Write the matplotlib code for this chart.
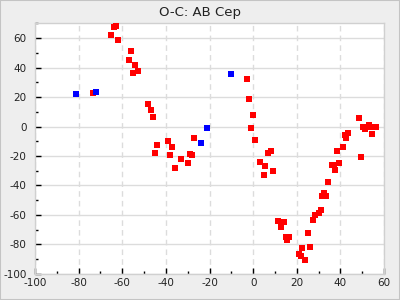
import matplotlib
matplotlib.use("Agg")
import matplotlib.pyplot as plt
from matplotlib.ticker import MultipleLocator
import matplotlib.patches as patches

plt.rcParams["axes.unicode_minus"] = False
plt.rcParams["font.family"] = "DejaVu Sans"

# primary minima (red) and secondary / other minima (blue)
red_x = [-64, -63, -65, -62, -56, -57, -54, -53, -55, -73.5, -48, -47, -46,
         -39, -44, -37, -45, -38, -36, -33, -30, -29, -28, -27,
         -3, -2, 0, -1, 1, 3, 5.5, 5, 7, 8, 9,
         11.5, 14, 13, 15, 16.5, 15.5, 25, 22.5, 26, 21, 22, 24,
         27.5, 28.5, 30, 31, 31.5, 32.5, 33.5, 34.5, 36, 37, 37.5, 39.5,
         38.5, 41, 42, 42.5, 43.5, 48.5, 49.5, 50.5, 51.5, 53, 53.5, 54.5,
         55.5, 56.5]
red_y = [67.5, 68, 62, 58.5, 51, 45.5, 42, 38, 36.5, 22.5, 15, 11, 6.5,
         -10, -12.5, -14, -18, -19, -28, -22, -25, -18.5, -19, -8,
         32.5, 18.5, 7.5, -1, -9, -24, -27, -33, -18, -16.5, -30.5,
         -64, -65, -68.5, -75, -75, -77, -72.5, -82.5, -82, -86.5, -88, -90.5,
         -63.5, -60, -58.5, -56.5, -47, -45, -47, -37.5, -26, -26, -29.5, -24.5,
         -16.5, -14, -6, -8, -4.5, 5.5, -21, 0, -2, 1, -0.5, -5,
         0, 0]
blue_x = [-81, -72, -10, -21, -24]
blue_y = [22, 23.5, 36, -1, -11]

fig = plt.figure(figsize=(4, 3), dpi=100, facecolor="#eeeeee")
fig.patches.append(patches.Rectangle((0, 0), 1, 1, transform=fig.transFigure,
                                     fill=False, edgecolor="#c4c4c4", linewidth=1.5))
ax = fig.add_axes([0.0875, 0.087, 0.8725, 0.835])
ax.set_facecolor("white")

ax.scatter(red_x, red_y, marker="s", s=20, color="#ff0000", linewidths=0, zorder=3)
ax.scatter(blue_x, blue_y, marker="s", s=20, color="#0000ff", linewidths=0, zorder=3)

ax.set_xlim(-100, 60)
ax.set_ylim(-100, 70)
ax.xaxis.set_major_locator(MultipleLocator(20))
ax.xaxis.set_minor_locator(MultipleLocator(10))
ax.yaxis.set_major_locator(MultipleLocator(20))
ax.yaxis.set_minor_locator(MultipleLocator(10))

ax.grid(axis="y", which="major", color="#dcdcdc", linestyle="-", linewidth=1)
ax.grid(axis="x", which="major", color="#dcdcdc", linestyle=(0, (4, 3)), linewidth=1)
ax.set_axisbelow(True)

ax.tick_params(which="both", direction="in", top=False, right=False,
               color="black", labelsize=7.5, labelcolor="#222222")
ax.tick_params(which="major", length=4, width=1)
ax.tick_params(which="minor", length=2.5, width=1)
ax.tick_params(axis="y", pad=6)
ax.tick_params(axis="x", pad=3)

for spine in ax.spines.values():
    spine.set_color("#d0d0d0")
    spine.set_linewidth(1)

fig.text(0.5, 0.958, "O-C: AB Cep", ha="center", va="center", fontsize=9.5, color="#222222")

fig.savefig("out.png", dpi=100, facecolor=fig.get_facecolor())
